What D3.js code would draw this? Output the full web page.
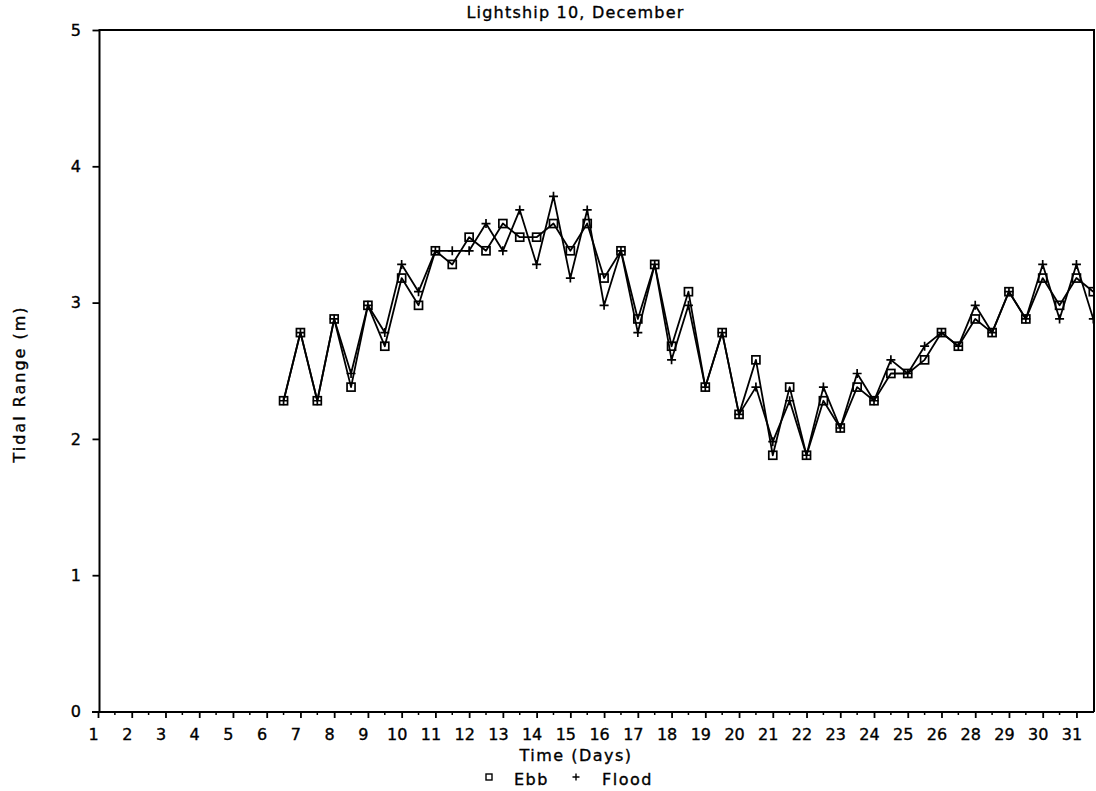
<!DOCTYPE html>
<html><head><meta charset="utf-8">
<script src="https://cdn.jsdelivr.net/npm/d3@7"></script>
<style>
html,body{margin:0;padding:0;background:#fff;}
svg{display:block;font-family:"DejaVu Sans",sans-serif;}
svg text{fill:#000;stroke:#000;stroke-width:0.35px;}
</style></head><body>
<svg id="chart" width="1096" height="791"></svg>
<script>
const titleText = "Lightship 10, December";
const yTitleText = "Tidal Range (m)";
const xTitleText = "Time (Days)";
const seriesNames = ["Ebb", "Flood"];

const times = [6.5, 7, 7.5, 8, 8.5, 9, 9.5, 10, 10.5, 11, 11.5, 12, 12.5, 13, 13.5, 14, 14.5, 15, 15.5, 16,
  16.5, 17, 17.5, 18, 18.5, 19, 19.5, 20, 20.5, 21, 21.5, 22, 22.5, 23, 23.5, 24, 24.5, 25, 25.5, 26,
  26.5, 27, 27.5, 28, 28.5, 29, 29.5, 30, 30.5];

const ebb = [2.28, 2.78, 2.28, 2.88, 2.38, 2.98, 2.68, 3.18, 2.98, 3.38, 3.28, 3.48, 3.38, 3.58, 3.48, 3.48,
  3.58, 3.38, 3.58, 3.18, 3.38, 2.88, 3.28, 2.68, 3.08, 2.38, 2.78, 2.18, 2.58, 1.88, 2.38, 1.88, 2.28,
  2.08, 2.38, 2.28, 2.48, 2.48, 2.58, 2.78, 2.68, 2.88, 2.78, 3.08, 2.88, 3.18, 2.98, 3.18, 3.08];

const flood = [2.28, 2.78, 2.28, 2.88, 2.48, 2.98, 2.78, 3.28, 3.08, 3.38, 3.38, 3.38, 3.58, 3.38, 3.68, 3.28,
  3.78, 3.18, 3.68, 2.98, 3.38, 2.78, 3.28, 2.58, 2.98, 2.38, 2.78, 2.18, 2.38, 1.98, 2.28, 1.88, 2.38,
  2.08, 2.48, 2.28, 2.58, 2.48, 2.68, 2.78, 2.68, 2.98, 2.78, 3.08, 2.88, 3.28, 2.88, 3.28, 2.88];

const xTickPositions = [1, 2, 3, 4, 5, 6, 7, 8, 9, 10, 11, 12, 13, 14, 15, 16, 17, 18, 19, 20, 21, 22, 23, 24, 25, 26, 27, 28, 29, 30];
const xTickLabels = ["1", "2", "3", "4", "5", "6", "7", "8", "9", "10", "11", "12", "13", "14", "15", "16", "17", "18", "19", "20", "21", "22", "23", "24", "25", "26", "28", "29", "30", "31"];
const yTicks = [0, 1, 2, 3, 4, 5];

const svg = d3.select("#chart");
const L = 99.5, R = 1094, T = 30, B = 712;

const x = d3.scaleLinear().domain([1, 30.55]).range([98, 1095]);
const y = d3.scaleLinear().domain([0, 5]).range([711.5, 30]);

// frame
svg.append("path")
  .attr("d", `M${L},${B} L${L},${T} L${R},${T} L${R},${B} M92,${B} L${R},${B}`)
  .attr("fill", "none").attr("stroke", "#000").attr("stroke-width", 2);

// x axis
const xAxis = d3.axisBottom(x).tickValues(xTickPositions).tickSize(6).tickPadding(10.5)
  .tickFormat((d, i) => xTickLabels[i]);
const gx = svg.append("g").attr("transform", `translate(0,${B})`).call(xAxis);
gx.select(".domain").remove();
gx.selectAll(".tick line").attr("stroke-width", 1.8);
gx.selectAll(".tick text").attr("font-size", 16).attr("font-family", "DejaVu Sans").attr("dx", -5);

// minor x ticks
const minor = d3.range(1.5, 30, 1);
svg.append("g").selectAll("line").data(minor).join("line")
  .attr("x1", d => x(d)).attr("x2", d => x(d))
  .attr("y1", B).attr("y2", B + 3)
  .attr("stroke", "#000").attr("stroke-width", 1.5);

// y axis
const yAxis = d3.axisLeft(y).tickValues(yTicks).tickSize(7).tickPadding(11.5).tickFormat(d3.format("d"));
const gy = svg.append("g").attr("transform", `translate(${L},0)`).call(yAxis);
gy.select(".domain").remove();
gy.selectAll(".tick line").attr("stroke-width", 1.8);
gy.selectAll(".tick text").attr("font-size", 16).attr("font-family", "DejaVu Sans");

// clip
svg.append("clipPath").attr("id", "plotclip").append("rect")
  .attr("x", L).attr("y", T - 10).attr("width", R - L).attr("height", B - T + 10);

const plot = svg.append("g").attr("clip-path", "url(#plotclip)");

const line = d3.line().x(d => x(d[0])).y(d => y(d[1]));
const ebbPts = times.map((t, i) => [t, ebb[i]]);
const floodPts = times.map((t, i) => [t, flood[i]]);

plot.append("path").datum(ebbPts).attr("d", line)
  .attr("fill", "none").attr("stroke", "#000").attr("stroke-width", 1.8).attr("stroke-linejoin", "round");
plot.append("path").datum(floodPts).attr("d", line)
  .attr("fill", "none").attr("stroke", "#000").attr("stroke-width", 1.8).attr("stroke-linejoin", "round");

const sq = 8;
plot.append("g").selectAll("rect").data(ebbPts).join("rect")
  .attr("x", d => x(d[0]) - sq / 2).attr("y", d => y(d[1]) - sq / 2)
  .attr("width", sq).attr("height", sq)
  .attr("fill", "none").attr("stroke", "#000").attr("stroke-width", 1.7);

const ph = 4.5;
plot.append("g").selectAll("path").data(floodPts).join("path")
  .attr("d", d => `M${x(d[0]) - ph},${y(d[1])} H${x(d[0]) + ph} M${x(d[0])},${y(d[1]) - ph} V${y(d[1]) + ph}`)
  .attr("fill", "none").attr("stroke", "#000").attr("stroke-width", 1.7);

// title
svg.append("text").attr("x", 575.5).attr("y", 18).attr("text-anchor", "middle")
  .attr("font-size", 16).attr("letter-spacing", 1.2).text(titleText);

// y title
svg.append("text").attr("transform", "translate(25,384) rotate(-90)").attr("text-anchor", "middle")
  .attr("font-size", 16).attr("letter-spacing", 2).text(yTitleText);

// x title
svg.append("text").attr("x", 576).attr("y", 761).attr("text-anchor", "middle")
  .attr("font-size", 16).attr("letter-spacing", 1.5).text(xTitleText);

// legend
const lg = svg.append("g");
lg.append("rect").attr("x", 486).attr("y", 774).attr("width", 6).attr("height", 6)
  .attr("fill", "none").attr("stroke", "#000").attr("stroke-width", 1.4);
lg.append("text").attr("x", 514).attr("y", 785).attr("font-size", 16).attr("letter-spacing", 1.5).text(seriesNames[0]);
lg.append("path").attr("d", "M572.5,777 H579.5 M576,773.5 V780.5").attr("stroke", "#000").attr("stroke-width", 1.4);
lg.append("text").attr("x", 602).attr("y", 785).attr("font-size", 16).attr("letter-spacing", 1.5).text(seriesNames[1]);
</script>
</body></html>
